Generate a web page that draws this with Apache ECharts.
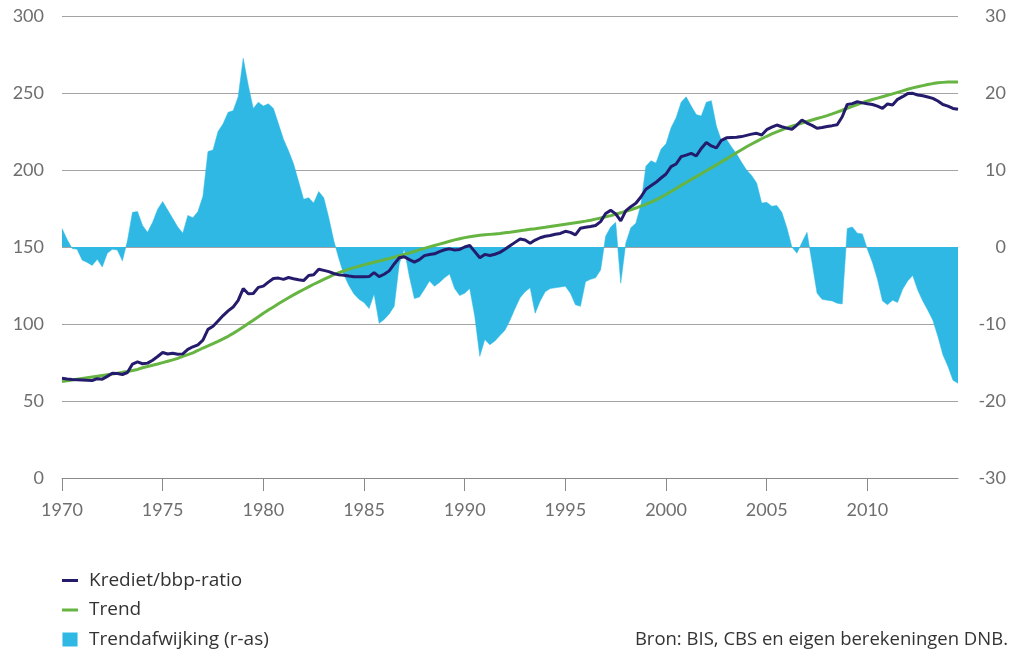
<!DOCTYPE html>
<html>
<head>
<meta charset="utf-8">
<script src="https://cdn.jsdelivr.net/npm/echarts@6/dist/echarts.min.js"></script>
<style>
  html, body { margin: 0; padding: 0; background: #fff; }
  #chart { width: 1011px; height: 653px; }
</style>
</head>
<body>
<div id="chart"></div>
<script>
// quarterly data, 1970K1 .. 2014K3
const kredietRatio = [
  64.7, 64.3, 64.0, 63.8,  63.6, 63.4, 63.3, 64.5,  64.2, 66.0, 68.0, 67.8,  67.2, 68.5, 74.0, 75.4,
  74.2, 74.6, 76.5, 78.9,  81.5, 80.5, 81.0, 80.3,  80.6, 83.5, 85.2, 86.5,  89.5, 96.5, 98.5, 102.0,
  105.5, 108.5, 111.0, 115.3,  123.0, 119.6, 119.8, 123.8,  124.6, 127.2, 129.6, 129.8,  129.0, 130.2, 129.4, 128.7,
  128.2, 131.5, 132.0, 135.6,  134.8, 134.0, 132.8, 131.9,  131.6, 131.1, 130.7, 130.7,  130.7, 130.8, 133.4, 130.8,
  132.3, 134.5, 139.0, 143.0,  143.7, 141.8, 140.2, 141.8,  144.4, 145.1, 145.6, 147.0,  148.2, 148.8, 148.1, 148.4,
  150.0, 151.0, 147.0, 143.0,  145.2, 144.5, 145.3, 146.5,  148.5, 150.8, 153.0, 155.2,  154.5, 152.4, 154.5, 156.0,
  157.0, 157.5, 158.3, 158.8,  160.2, 159.5, 157.9, 162.2,  162.8, 163.3, 164.0, 166.5,  171.8, 173.8, 171.5, 167.0,
  173.5, 176.2, 178.4, 182.5,  187.5, 189.8, 192.0, 194.8,  197.4, 202.2, 203.9, 208.7,  209.7, 210.8, 209.1, 214.0,
  217.8, 215.6, 214.3, 219.3,  220.9, 221.1, 221.2, 221.7,  222.5, 223.3, 223.8, 222.7,  226.2, 227.8, 229.2, 228.1,
  227.2, 226.4, 229.2, 232.5,  230.5, 229.0, 227.1, 227.6,  228.3, 228.8, 229.4, 234.6,  242.6, 243.1, 244.3, 243.6,
  243.0, 242.5, 241.5, 240.0,  242.9, 242.2, 245.9, 247.6,  249.6, 249.8, 248.7, 248.2,  247.4, 246.5, 244.8, 242.5,
  241.5, 240.0, 239.4
];
const trend = [
  62.6, 63.1, 63.6, 64.1,  64.6, 65.1, 65.6, 66.1,  66.6, 67.1, 67.6, 68.0,  68.6, 69.1, 69.8, 70.5,
  71.6, 72.4, 73.2, 74.0,  74.9, 75.8, 76.7, 77.7,  79.0, 80.1, 81.3, 82.8,  84.4, 85.8, 87.2, 88.7,
  90.3, 92.0, 93.9, 95.9,  98.1, 100.3, 102.5, 104.7,  107.0, 109.1, 111.1, 113.1,  115.1, 117.0, 118.9, 120.7,
  122.4, 124.1, 125.8, 127.4,  129.0, 130.5, 132.0, 133.3,  134.5, 135.6, 136.6, 137.5,  138.4, 139.3, 140.1, 140.9,
  141.7, 142.5, 143.4, 144.3,  145.2, 146.1, 147.1, 148.1,  149.1, 150.1, 151.0, 151.9,  152.8, 153.7, 154.6, 155.4,
  156.1, 156.7, 157.2, 157.6,  157.9, 158.2, 158.5, 158.8,  159.2, 159.6, 160.1, 160.6,  161.0, 161.5, 161.9, 162.4,
  162.8, 163.3, 163.8, 164.3,  164.8, 165.3, 165.8, 166.3,  166.8, 167.4, 168.1, 168.8,  169.6, 170.4, 171.3, 172.2,
  173.2, 174.2, 175.3, 176.5,  177.7, 179.1, 180.6, 182.3,  184.1, 186.0, 188.0, 190.0,  191.9, 193.8, 195.7, 197.6,
  199.5, 201.4, 203.3, 205.3,  207.2, 209.2, 211.2, 213.2,  215.1, 216.9, 218.6, 220.3,  221.9, 223.4, 224.8, 226.1,
  227.3, 228.4, 229.5, 230.5,  231.5, 232.5, 233.4, 234.3,  235.3, 236.4, 237.6, 238.8,  240.1, 241.3, 242.5, 243.7,
  244.8, 245.8, 246.7, 247.6,  248.5, 249.4, 250.4, 251.4,  252.4, 253.3, 254.1, 254.8,  255.5, 256.1, 256.6, 256.9,
  257.1, 257.2, 257.2
];
const trendafwijking = [
  2.4, 1.0, -0.2, -0.3,  -1.7, -2.0, -2.4, -1.6,  -2.6, -0.8, -0.3, -0.4,  -1.8, 0.8, 4.5, 4.6,
  2.8, 1.9, 3.2, 4.9,  5.9, 4.8, 3.7, 2.6,  1.8, 4.1, 3.8, 4.6,  6.6, 12.4, 12.6, 15.0,
  16.0, 17.5, 17.7, 19.5,  24.5, 21.0, 18.0, 18.8,  18.3, 18.6, 18.0, 16.0,  14.0, 12.5, 10.8, 8.5,
  6.2, 6.4, 5.7, 7.2,  6.4, 3.8, 0.8, -1.5,  -3.6, -5.0, -6.1, -6.8,  -7.2, -8.0, -6.1, -9.9,
  -9.4, -8.7, -7.7, -2.2,  -0.3, -3.8, -6.7, -6.5,  -5.5, -4.4, -5.1, -4.6,  -4.0, -3.5, -5.4, -6.3,
  -6.0, -5.4, -9.0, -14.2,  -12.0, -12.7, -12.2, -11.5,  -10.8, -9.5, -8.0, -6.6,  -5.8, -5.3, -8.6, -7.0,
  -5.8, -5.4, -5.3, -5.2,  -5.1, -6.0, -7.5, -7.7,  -4.5, -4.2, -4.0, -3.0,  1.4, 2.6, 3.2, -4.7,
  0.5, 2.5, 3.1, 5.5,  10.5, 11.2, 10.9, 12.7,  13.4, 15.5, 16.8, 18.8,  19.5, 18.3, 17.2, 17.0,
  18.8, 19.0, 15.7, 13.8,  14.0, 13.0, 12.1, 11.0,  10.0, 9.3, 8.3, 5.7,  5.8, 5.3, 5.4, 4.5,
  2.5, 0.0, -0.8, 0.6,  1.9, -2.0, -6.0, -6.8,  -6.9, -7.0, -7.3, -7.4,  2.4, 2.6, 1.8, 1.7,
  -0.3, -2.0, -4.2, -7.0,  -7.5, -6.9, -7.2, -5.5,  -4.4, -3.7, -5.6, -7.0,  -8.2, -9.5, -11.6, -14.0,
  -15.5, -17.3, -17.7
];

const quarters = [];
for (let y = 1970; y <= 2014; y++) {
  for (let k = 1; k <= 4; k++) quarters.push(y + 'K' + k);
}
quarters.length = kredietRatio.length;

const NAVY = '#241b6d';
const GREEN = '#66b441';
const BLUE = '#2fb8e4';
const axisFont = { fontFamily: 'Lato', fontSize: 18, color: '#6e6e6e' };
const dashIcon = 'path://M0,0H16V3H0Z';
const squareIcon = 'path://M0,0H14V13H0Z';

const isTick = (i, v) => v.slice(4) === 'K1' && +v.slice(0, 4) % 5 === 0;

const chart = echarts.init(document.getElementById('chart'), null, { renderer: 'canvas' });
chart.setOption({
  animation: false,
  grid: { left: 62, right: 53, top: 16, bottom: 175, containLabel: false },
  legend: {
    orient: 'vertical',
    left: 62,
    top: 571,
    padding: 0,
    height: 82,
    itemWidth: 16,
    itemHeight: 14,
    itemGap: 10.5,
    selectedMode: false,
    textStyle: { fontFamily: 'Open Sans', fontSize: 19, lineHeight: 19, color: '#333', padding: [0, 0, 0, 6] },
    data: [
      { name: 'Krediet/bbp-ratio', icon: dashIcon },
      { name: 'Trend', icon: dashIcon },
      { name: 'Trendafwijking (r-as)', icon: squareIcon }
    ]
  },
  graphic: [{
    type: 'text',
    right: 3,
    top: 630,
    style: { text: 'Bron: BIS, CBS en eigen berekeningen DNB.', fontFamily: 'Open Sans', fontSize: 18.5, fill: '#333' }
  }],
  xAxis: {
    type: 'category',
    data: quarters,
    boundaryGap: false,
    axisLine: { lineStyle: { color: '#8a8a8a', width: 1 } },
    axisTick: { interval: isTick, length: 13, lineStyle: { color: '#8a8a8a' } },
    axisLabel: { ...axisFont, interval: isTick, margin: 23, formatter: v => v.slice(0, 4) },
    splitLine: { show: false }
  },
  yAxis: [
    {
      type: 'value', min: 0, max: 300, interval: 50,
      axisLine: { show: false }, axisTick: { show: false },
      axisLabel: { ...axisFont, margin: 18 },
      splitLine: { lineStyle: { color: '#a3a3a3', width: 1 } }
    },
    {
      type: 'value', min: -30, max: 30, interval: 10, position: 'right',
      axisLine: { show: false }, axisTick: { show: false },
      axisLabel: { ...axisFont, align: 'right', margin: 48 },
      splitLine: { show: false }
    }
  ],
  series: [
    {
      name: 'Trendafwijking (r-as)', type: 'line', yAxisIndex: 1, data: trendafwijking,
      color: BLUE, symbol: 'none', z: 1,
      lineStyle: { width: 0.5, color: BLUE },
      areaStyle: { color: BLUE, opacity: 1 }
    },
    {
      name: 'Trend', type: 'line', data: trend, color: GREEN, symbol: 'none', z: 3,
      lineStyle: { width: 3, color: GREEN }
    },
    {
      name: 'Krediet/bbp-ratio', type: 'line', data: kredietRatio, color: NAVY, symbol: 'none', z: 4,
      lineStyle: { width: 3, color: NAVY }
    }
  ]
});
</script>
</body>
</html>
